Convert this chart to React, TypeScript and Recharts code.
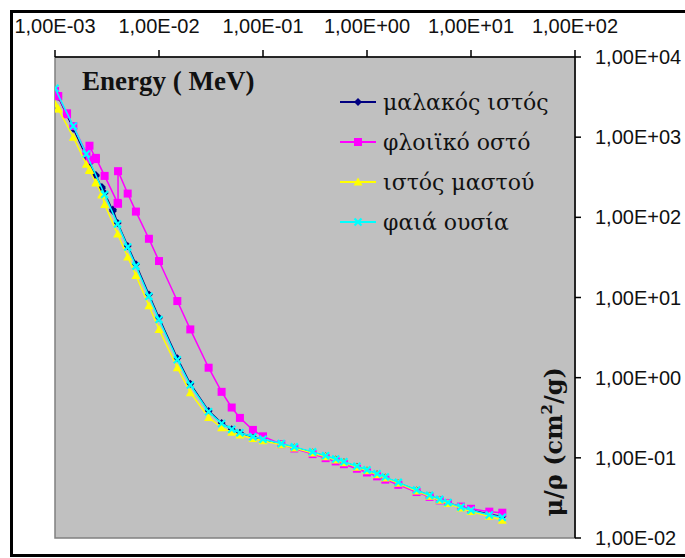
import React from 'react'
import {
  ScatterChart, Scatter, XAxis, YAxis, ReferenceArea, Legend,
} from 'recharts'

// Energy grids (MeV) and mass attenuation coefficients (cm2/g)
const E_SOFT = [0.001, 0.0010721, 0.0010721, 0.0015, 0.002, 0.0021455, 0.0021455, 0.002472, 0.002472, 0.0028224, 0.0028224, 0.003, 0.0036074, 0.0036074, 0.004, 0.005, 0.006, 0.008, 0.01, 0.015, 0.02, 0.03, 0.04, 0.05, 0.06, 0.08, 0.1, 0.15, 0.2, 0.3, 0.4, 0.5, 0.6, 0.8, 1, 1.25, 1.5, 2, 3, 4, 5, 6, 8, 10, 15, 20]
const MU_SOFT = [3829, 3189, 3207, 1273, 573.9, 472, 485.8, 327.1, 337.6, 231.1, 238.4, 201.2, 120.1, 125, 85, 44, 26, 10.9, 5.6, 1.75, 0.84, 0.385, 0.2719, 0.2271, 0.2049, 0.1817, 0.1684, 0.1483, 0.135, 0.1168, 0.1045, 0.09538, 0.08817, 0.07742, 0.06961, 0.06225, 0.05664, 0.04868, 0.03915, 0.03364, 0.03005, 0.02753, 0.02429, 0.02233, 0.01976, 0.01859]

const E_BONE = [0.001, 0.0010721, 0.0010721, 0.001305, 0.001305, 0.0015, 0.002, 0.0021455, 0.0021455, 0.002472, 0.002472, 0.003, 0.004, 0.0040381, 0.0040381, 0.005, 0.006, 0.008, 0.01, 0.015, 0.02, 0.03, 0.04, 0.05, 0.06, 0.08, 0.1, 0.15, 0.2, 0.3, 0.4, 0.5, 0.6, 0.8, 1, 1.25, 1.5, 2, 3, 4, 5, 6, 8, 10, 15, 20]
const MU_BONE = [3781, 3233, 3257, 1932, 1984, 1374, 633.1, 522.2, 782.2, 533.3, 551.9, 328.6, 151.4, 147.6, 376.6, 198, 118, 54, 28.5, 9.03, 4.0, 1.331, 0.6655, 0.4242, 0.3148, 0.2229, 0.1855, 0.148, 0.1309, 0.1113, 0.09908, 0.09022, 0.08332, 0.07308, 0.06566, 0.05871, 0.05346, 0.04607, 0.03745, 0.03257, 0.02946, 0.02734, 0.02467, 0.02314, 0.02132, 0.02068]

const E_BREAST = [0.001, 0.0010721, 0.0010721, 0.0015, 0.002, 0.0021455, 0.0021455, 0.002472, 0.002472, 0.0028224, 0.0028224, 0.003, 0.004, 0.005, 0.006, 0.008, 0.01, 0.015, 0.02, 0.03, 0.04, 0.05, 0.06, 0.08, 0.1, 0.15, 0.2, 0.3, 0.4, 0.5, 0.6, 0.8, 1, 1.25, 1.5, 2, 3, 4, 5, 6, 8, 10, 15, 20]
const MU_BREAST = [2600, 2250, 2260, 1000, 460, 385, 392, 268, 274, 190, 194, 145, 62, 32, 18.8, 7.9, 4.0, 1.33, 0.65, 0.318, 0.238, 0.208, 0.192, 0.174, 0.163, 0.146, 0.133, 0.115, 0.103, 0.0942, 0.0871, 0.0765, 0.0688, 0.0615, 0.056, 0.0481, 0.0386, 0.0331, 0.0295, 0.0269, 0.0236, 0.0214, 0.0187, 0.0166]

const E_WATER = [0.001, 0.0015, 0.002, 0.003, 0.004, 0.005, 0.006, 0.008, 0.01, 0.015, 0.02, 0.03, 0.04, 0.05, 0.06, 0.08, 0.1, 0.15, 0.2, 0.3, 0.4, 0.5, 0.6, 0.8, 1, 1.25, 1.5, 2, 3, 4, 5, 6, 8, 10, 15, 20]
const MU_WATER = [4078, 1376, 617.3, 192.9, 82.78, 42.58, 24.64, 10.37, 5.329, 1.673, 0.8096, 0.3756, 0.2683, 0.2269, 0.2059, 0.1837, 0.1707, 0.1505, 0.137, 0.1186, 0.1061, 0.09687, 0.08956, 0.07865, 0.07072, 0.06323, 0.05754, 0.04942, 0.03969, 0.03403, 0.03031, 0.0277, 0.02429, 0.02219, 0.01941, 0.01813]

const X_TICKS = [0.001, 0.01, 0.1, 1, 10, 100]
const Y_TICKS = [0.01, 0.1, 1, 10, 100, 1000, 10000]

const NAMES = ['μαλακός ιστός', 'φλοιϊκό οστό', 'ιστός μαστού', 'φαιά ουσία']
const COLORS = ['#000080', '#ff00ff', '#ffff00', '#00ffff']

const SANS = '"Liberation Sans", Arial, sans-serif'
const SERIF = '"Liberation Serif", "DejaVu Serif", serif'
const GREEK_SERIF = '"DejaVu Serif", "Liberation Serif", serif'

const toPts = (e: number[], m: number[]) => e.map((x, i) => ({ x, y: m[i] }))

const SERIES = [
  toPts(E_SOFT, MU_SOFT),
  toPts(E_BONE, MU_BONE),
  toPts(E_BREAST, MU_BREAST),
  toPts(E_WATER, MU_WATER),
]

// Excel-style "1,00E-03"
const fmtSci = (v: number) => {
  const [m, e] = v.toExponential(2).split('e')
  const n = Number(e)
  return `${m.replace('.', ',')}E${n < 0 ? '-' : '+'}${String(Math.abs(n)).padStart(2, '0')}`
}

// marker shapes, one per series (diamond, square, triangle, x)
function Marker({ kind, cx, cy, color }: { kind: number; cx: number; cy: number; color: string }) {
  if (cx == null || cy == null) return null
  if (kind === 0) return <path d={`M${cx},${cy - 4}L${cx + 4},${cy}L${cx},${cy + 4}L${cx - 4},${cy}Z`} fill={color} />
  if (kind === 1) return <rect x={cx - 4} y={cy - 4} width={8} height={8} fill={color} />
  if (kind === 2) return <path d={`M${cx},${cy - 4.5}L${cx + 4.5},${cy + 3.5}L${cx - 4.5},${cy + 3.5}Z`} fill={color} />
  return (
    <g stroke={color} strokeWidth={2.2}>
      <line x1={cx - 3.5} y1={cy - 3.5} x2={cx + 3.5} y2={cy + 3.5} />
      <line x1={cx - 3.5} y1={cy + 3.5} x2={cx + 3.5} y2={cy - 3.5} />
    </g>
  )
}

function LegendBox() {
  return (
    <div style={{ fontFamily: GREEK_SERIF, fontSize: 22, color: '#111' }}>
      {NAMES.map((n, i) => (
        <div key={n} style={{ display: 'flex', alignItems: 'center', height: 40 }}>
          <svg width={40} height={14} style={{ overflow: 'visible' }}>
            <line x1={2} y1={7} x2={38} y2={7} stroke={COLORS[i]} strokeWidth={2} />
            <Marker kind={i} cx={20} cy={7} color={COLORS[i]} />
          </svg>
          <span style={{ marginLeft: 5, whiteSpace: 'nowrap' }}>{n}</span>
        </div>
      ))}
    </div>
  )
}

export default function App() {
  return (
    <div style={{ position: 'fixed', left: 0, top: 0, width: 685, height: 558, background: '#fff', overflow: 'hidden' }}>
      <div style={{ position: 'absolute', left: 10, top: 10, width: 700, height: 547, border: '3px solid #000', boxSizing: 'border-box' }} />
      <div style={{ position: 'absolute', left: 0, top: 0 }}>
        <ScatterChart width={685} height={558} margin={{ top: 27, right: 10, bottom: 20, left: 55 }}>
          <ReferenceArea x1={0.001} x2={100} y1={0.01} y2={10000} fill="#c0c0c0" fillOpacity={1} stroke="#808080" strokeWidth={1.5} ifOverflow="visible" />
          <XAxis
            dataKey="x" type="number" scale="log" domain={[0.001, 100]} ticks={X_TICKS} interval={0}
            orientation="top" height={30} allowDataOverflow
            tickFormatter={fmtSci} tickSize={7} tickMargin={17}
            tick={{ fontFamily: SANS, fontSize: 20, fill: '#111' }}
            axisLine={{ stroke: '#000', strokeWidth: 1.5 }} tickLine={{ stroke: '#000', strokeWidth: 1.5 }}
            label={{
              content: ({ viewBox }: any) => (
                <text x={viewBox.x + 27} y={viewBox.y + viewBox.height + 33} fontFamily={SERIF} fontWeight="bold" fontSize={27} fill="#111">
                  Energy ( MeV)
                </text>
              ),
            }}
          />
          <YAxis
            dataKey="y" type="number" scale="log" domain={[0.01, 10000]} ticks={Y_TICKS} interval={0}
            orientation="right" width={100} allowDataOverflow
            tickFormatter={fmtSci} tickSize={6} tickMargin={14}
            tick={{ fontFamily: SANS, fontSize: 20, fill: '#111' }}
            axisLine={{ stroke: '#000', strokeWidth: 1.5 }} tickLine={{ stroke: '#000', strokeWidth: 1.5 }}
            label={{
              content: ({ viewBox }: any) => {
                const x = viewBox.x - 13
                const y = viewBox.y + viewBox.height * 0.8
                return (
                  <text x={x} y={y} transform={`rotate(-90, ${x}, ${y})`} textAnchor="middle" fontFamily={GREEK_SERIF} fontWeight="bold" fontSize={24} fill="#111">
                    μ/ρ (cm<tspan dy={-10} fontSize={15}>2</tspan><tspan dy={10}>/g)</tspan>
                  </text>
                )
              },
            }}
          />
          <Legend
            layout="vertical" align="center" verticalAlign="middle"
            wrapperStyle={{ left: 338, top: 82, width: 250 }}
            content={() => <LegendBox />}
          />
          {SERIES.map((pts, i) => (
            <Scatter
              key={NAMES[i]}
              name={NAMES[i]}
              data={pts}
              fill={COLORS[i]}
              line={{ stroke: COLORS[i], strokeWidth: 1.5 }}
              lineType="joint"
              isAnimationActive={false}
              shape={(p: any) => <Marker kind={i} cx={p.cx} cy={p.cy} color={COLORS[i]} />}
            />
          ))}
        </ScatterChart>
      </div>
    </div>
  )
}
